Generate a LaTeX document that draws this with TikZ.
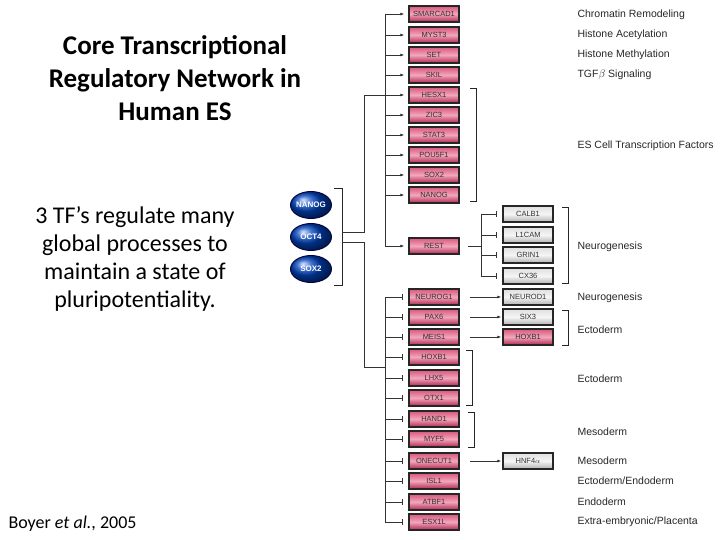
\documentclass[tikz,border=0pt]{standalone}
\usepackage{fontspec}
\setmainfont{Carlito}
\newfontfamily\arial{Liberation Sans}
\usetikzlibrary{shapes.geometric,arrows.meta}
\definecolor{pkT}{HTML}{D8587C}
\definecolor{pkM}{HTML}{F2A6BC}
\definecolor{pkB}{HTML}{B02850}
\tikzset{
 pk/.style={draw=black!85,line width=1.4pt,minimum width=50pt,minimum height=16pt,inner sep=0pt,
   top color=pkT,bottom color=pkB,middle color=pkM,
   font=\arial\fontsize{7.5}{8}\selectfont,text=black!80},
 gy/.style={pk,top color=gray!25,bottom color=gray!60,middle color=gray!8},
 ball/.style={ellipse,minimum width=40pt,minimum height=27pt,inner sep=0pt,
   font=\arial\bfseries\fontsize{8}{9}\selectfont,text=white},
 lab/.style={anchor=west,font=\arial\fontsize{10.5}{12}\selectfont,text=black!85},
 ln/.style={line width=0.7pt,black!80},
 ar/.style={ln,-{Latex[length=4pt,width=3pt]}},
 bar/.style={ln,-{Bar[width=6pt]}},
 brk/.style={line width=0.7pt,black!85}
}
\begin{document}
\begin{tikzpicture}[x=1pt,y=-1pt]
\useasboundingbox (0,0) rectangle (720,540);
% left text
\node[align=center,font=\bfseries\fontsize{27}{33}\selectfont] (title) at (175,78) {Core Transcriptional\\Regulatory Network in\\Human ES};
\node[align=center,font=\fontsize{24}{28}\selectfont] (desc) at (135,259) {3 TF’s regulate many\\global processes to\\maintain a state of\\pluripotentiality.};
\node[anchor=west,font=\fontsize{18}{20}\selectfont] (ref) at (5,524) {Boyer \textit{et al.}, 2005};
% balls
\foreach \y in {205,237,269}{
  \shade[ball color=blue!65!cyan!75!black] (311,\y) ellipse [x radius=20.5, y radius=13.5];
  \draw[blue!25!black,line width=0.9pt] (311,\y) ellipse [x radius=20.5, y radius=13.5];}
\node[ball] (nanogb) at (311,205) {NANOG};
\node[ball] (oct4) at (311,237) {OCT4};
\node[ball] (sox2b) at (311,269) {SOX2};
\draw[brk] (334,188) -- (342,188) -- (342,285) -- (334,285);
% left column boxes
\foreach \n/\t/\y in {smarcad/SMARCAD1/14,myst/MYST3/35,set/SET/55,skil/SKIL/75,hesx/HESX1/95,zic/ZIC3/115,stat/STAT3/135,pou/POU5F1/155,sox/SOX2/175,nanog/NANOG/195,rest/REST/246,neurog/NEUROG1/297,pax/PAX6/317,meis/MEIS1/337,hoxa/HOXB1/357,lhx/LHX5/378,otx/OTX1/398,hand/HAND1/419,myf/MYF5/439,onecut/ONECUT1/461,isl/ISL1/481,atbf/ATBF1/502,esx/ESX1L/522}
  {\node[pk] (\n) at (434,\y) {\t};}
% right boxes
\foreach \n/\t/\y in {calb/CALB1/214,l1cam/L1CAM/235,grin/GRIN1/255,cx/CX36/276,neurod/NEUROD1/297,six/SIX3/317}
  {\node[gy] (\n) at (528,\y) {\t};}
\node[pk] (hoxb) at (528,337) {HOXB1};
\node[gy] (hnf) at (528,461) {HNF4$\alpha$};
% upper trunk
\coordinate (t1) at (385,14);
\coordinate (t2) at (385,246);
\draw[ln] (t1) -- (t2);
\foreach \n in {smarcad,myst,set,skil,hesx,zic,stat,pou,sox,nanog,rest}
  {\draw[ar] (\n.west -| t1) -- ([xshift=-4pt]\n.west);}
\coordinate (u1) at (342,232);
\draw[ln] (u1) -- (364,232) -- (364,95) -- (385,95);
% lower trunk
\coordinate (b1) at (385,297);
\coordinate (b2) at (385,522);
\draw[ln] (b1) -- (b2);
\foreach \n in {neurog,pax,meis,hoxa,lhx,otx,hand,myf,onecut,isl,atbf,esx}
  {\draw[bar] (\n.west -| b1) -- ([xshift=-6pt]\n.west);}
\coordinate (u2) at (342,242);
\draw[ln] (u2) -- (364,242) -- (364,367) -- (385,367);
% REST branch
\coordinate (r1) at (481,214);
\coordinate (r2) at (481,276);
\draw[ln] ([xshift=8pt]rest.east) -- (481,246);
\draw[ln] (r1) -- (r2);
\foreach \n in {calb,l1cam,grin,cx}
  {\draw[bar] (\n.west -| r1) -- ([xshift=-6pt]\n.west);}
% arrows
\draw[ar] ([xshift=10pt]neurog.east) -- ([xshift=-1pt]neurod.west);
\draw[ar] ([xshift=10pt]pax.east) -- ([xshift=-1pt]six.west);
\draw[ar] ([xshift=10pt]meis.east) -- ([xshift=-1pt]hoxb.west);
\draw[ar] ([xshift=10pt]onecut.east) -- ([xshift=-1pt]hnf.west);
% brackets
\draw[brk] (470,88) -- (476,88) -- (476,201) -- (470,201);
\draw[brk] (562,207) -- (568,207) -- (568,283) -- (562,283);
\draw[brk] (562,310) -- (568,310) -- (568,345) -- (562,345);
\draw[brk] (466,350) -- (472,350) -- (472,405) -- (466,405);
\draw[brk] (468,412) -- (474,412) -- (474,447) -- (468,447);
% labels
\foreach \y/\t in {15/{Chromatin Remodeling},35/{Histone Acetylation},55/{Histone Methylation},75/{TGF$\beta$ Signaling},146/{ES Cell Transcription Factors},247/{Neurogenesis},298/{Neurogenesis},330/{Ectoderm},379/{Ectoderm},432/{Mesoderm},461/{Mesoderm},481/{Ectoderm\slash Endoderm},502/{Endoderm},522/{Extra-embryonic\slash Placenta}}
  {\node[lab] at (574,\y) {\t};}
\end{tikzpicture}
\end{document}
